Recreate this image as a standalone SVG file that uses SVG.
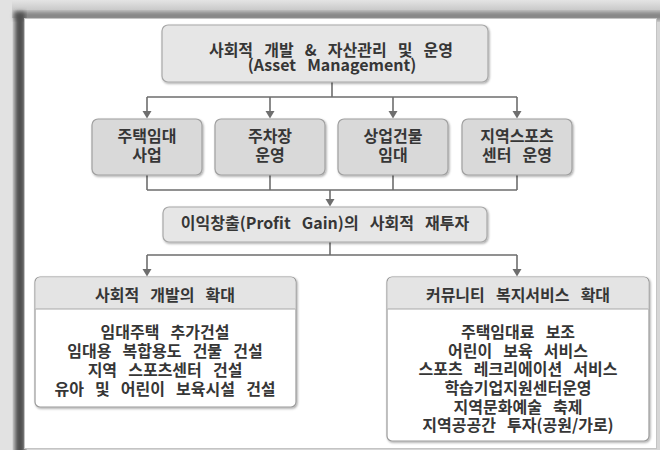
<svg xmlns="http://www.w3.org/2000/svg" width="660" height="450" viewBox="0 0 660 450">
  <defs>
    <linearGradient id="bandTop" x1="0" y1="0" x2="0" y2="1">
      <stop offset="0" stop-color="#e4e4e4"/>
      <stop offset="1" stop-color="#b4b4b4"/>
    </linearGradient>
    <filter id="soft" x="-20%" y="-20%" width="140%" height="140%">
      <feGaussianBlur stdDeviation="2.2"/>
    </filter>
    <filter id="shadow" x="-5%" y="-5%" width="112%" height="118%">
      <feDropShadow dx="1" dy="1.2" stdDeviation="0.9" flood-color="#000" flood-opacity="0.35"/>
    </filter>
    <style>
      .t { font-family: "Noto Sans CJK KR", "Noto Sans", sans-serif; font-weight: bold; font-size: 16px; fill: #363636; text-anchor: middle; word-spacing: 7.5px; }
      .main { fill: #e6e6e6; stroke: #a8a8a8; stroke-width: 1.2; }
      .biz { fill: #d9d9d9; stroke: #a0a0a0; stroke-width: 1.2; }
      .card { fill: #ffffff; stroke: #9a9a9a; stroke-width: 1.2; }
      .head { fill: #e4e4e4; }
      .sep { stroke: #a8a8a8; stroke-width: 1; }
      .wire { fill: none; stroke: #6e6e6e; stroke-width: 1.6; }
      .tip { fill: #6e6e6e; }
    </style>
  </defs>

  <!-- page frame: grey border with inner shadow on the top and left edges -->
  <rect x="0" y="0" width="660" height="450" fill="#d6d6d6"/>
  <rect x="0" y="0" width="660" height="18" fill="url(#bandTop)"/>
  <rect x="0" y="0" width="12" height="450" fill="#e2e2e2"/>
  <rect x="14" y="12" width="660" height="8" fill="#858585" filter="url(#soft)"/>
  <rect x="15" y="12" width="10" height="450" fill="#505050" filter="url(#soft)"/>
  <rect x="24.5" y="18.5" width="632" height="430" fill="#ffffff" stroke="#c4c4c4" stroke-width="1"/>

  <!-- connectors -->
  <g id="connectors">
    <path class="wire" d="M332,82 V97 M147,97 H517 M147,97 V112 M270,97 V112 M393,97 V112 M517,97 V112"/>
    <path class="wire" d="M147,175 V190 M270,175 V190 M393,175 V190 M517,175 V190 M147,190 H517 M330,190 V200"/>
    <path class="wire" d="M330,242 V255 M147,255 H517 M147,255 V270 M517,255 V270"/>
    <g class="tip">
      <path d="M142.5,111 H151.5 L147,118.5 Z"/>
      <path d="M265.5,111 H274.5 L270,118.5 Z"/>
      <path d="M388.5,111 H397.5 L393,118.5 Z"/>
      <path d="M512.5,111 H521.5 L517,118.5 Z"/>
      <path d="M325.5,199 H334.5 L330,206.5 Z"/>
      <path d="M142.5,269 H151.5 L147,276.5 Z"/>
      <path d="M512.5,269 H521.5 L517,276.5 Z"/>
    </g>
  </g>

  <!-- top: asset management -->
  <g id="asset-management">
    <rect class="main" x="162" y="25" width="326" height="57" rx="6" filter="url(#shadow)"/>
    <text class="t" x="331" y="56">사회적 개발 &amp; 자산관리 및 운영</text>
    <text class="t" x="332" y="71">(Asset Management)</text>
  </g>

  <!-- business lines -->
  <g id="housing-lease">
    <rect class="biz" x="92" y="119" width="110" height="56" rx="6" filter="url(#shadow)"/>
    <text class="t" x="147" y="142">주택임대</text>
    <text class="t" x="147" y="161">사업</text>
  </g>
  <g id="parking">
    <rect class="biz" x="215" y="119" width="110" height="56" rx="6" filter="url(#shadow)"/>
    <text class="t" x="270" y="142">주차장</text>
    <text class="t" x="270" y="161">운영</text>
  </g>
  <g id="commercial-lease">
    <rect class="biz" x="338" y="119" width="110" height="56" rx="6" filter="url(#shadow)"/>
    <text class="t" x="393" y="142">상업건물</text>
    <text class="t" x="393" y="161">임대</text>
  </g>
  <g id="sports-center">
    <rect class="biz" x="462" y="119" width="110" height="56" rx="6" filter="url(#shadow)"/>
    <text class="t" x="517" y="142">지역스포츠</text>
    <text class="t" x="517" y="161">센터 운영</text>
  </g>

  <!-- profit reinvestment -->
  <g id="profit-gain">
    <rect class="main" x="163" y="207" width="324" height="35" rx="6" filter="url(#shadow)"/>
    <text class="t" x="325" y="229">이익창출(Profit Gain)의 사회적 재투자</text>
  </g>

  <!-- outcome cards -->
  <g id="social-development">
    <rect class="card" x="35" y="277" width="261" height="130" rx="5" filter="url(#shadow)"/>
    <path class="head" d="M35.6,309 V282 a5,5 0 0 1 5,-4.4 H290.4 a5,5 0 0 1 5,4.4 V309 Z"/>
    <line class="sep" x1="35.6" y1="309" x2="295.4" y2="309"/>
    <text class="t" x="165" y="301">사회적 개발의 확대</text>
    <text class="t" x="165" y="338">임대주택 추가건설</text>
    <text class="t" x="165" y="357">임대용 복합용도 건물 건설</text>
    <text class="t" x="165" y="376">지역 스포츠센터 건설</text>
    <text class="t" x="165" y="395">유아 및 어린이 보육시설 건설</text>
  </g>
  <g id="community-welfare">
    <rect class="card" x="387" y="277" width="262" height="164" rx="5" filter="url(#shadow)"/>
    <path class="head" d="M387.6,309 V282 a5,5 0 0 1 5,-4.4 H643.4 a5,5 0 0 1 5,4.4 V309 Z"/>
    <line class="sep" x1="387.6" y1="309" x2="648.4" y2="309"/>
    <text class="t" x="518" y="301">커뮤니티 복지서비스 확대</text>
    <text class="t" x="518" y="338">주택임대료 보조</text>
    <text class="t" x="518" y="357">어린이 보육 서비스</text>
    <text class="t" x="518" y="375">스포츠 레크리에이션 서비스</text>
    <text class="t" x="518" y="394">학습기업지원센터운영</text>
    <text class="t" x="518" y="413">지역문화예술 축제</text>
    <text class="t" x="518" y="431">지역공공간 투자(공원/가로)</text>
  </g>
</svg>
